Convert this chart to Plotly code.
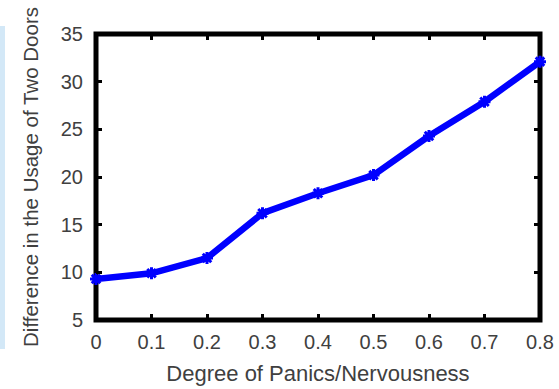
import plotly.graph_objects as go

panic_degree = [0, 0.1, 0.2, 0.3, 0.4, 0.5, 0.6, 0.7, 0.8]
door_usage_diff = [9.3, 9.9, 11.5, 16.2, 18.3, 20.2, 24.3, 27.9, 32.1]
x_ticks = [0, 0.1, 0.2, 0.3, 0.4, 0.5, 0.6, 0.7, 0.8]
x_tick_labels = ["0", "0.1", "0.2", "0.3", "0.4", "0.5", "0.6", "0.7", "0.8"]
y_ticks = [5, 10, 15, 20, 25, 30, 35]

W, H = 559, 389
L, R, T, B = 96, 19, 34, 69
pw, ph = W - L - R, H - T - B

font_family = "Liberation Sans, Arial, sans-serif"
txt_color = "#404040"

fig = go.Figure()
fig.add_trace(go.Scatter(
    x=panic_degree, y=door_usage_diff, mode="lines+markers",
    line=dict(color="#0000ff", width=6.5),
    marker=dict(symbol="asterisk-open", size=10, color="#0000ff",
                line=dict(color="#0000ff", width=3)),
    cliponaxis=False, showlegend=False,
))

# axis box
fig.add_shape(type="rect", xref="x domain", yref="y domain",
              x0=0, x1=1, y0=0, y1=1, layer="below",
              line=dict(color="black", width=5), fillcolor="rgba(0,0,0,0)")
# light blue strip at far left
fig.add_shape(type="rect", xref="paper", yref="paper",
              x0=-L / pw, x1=(5 - L) / pw,
              y0=(H - B - 349) / ph, y1=(H - B - 26) / ph,
              layer="below", line=dict(width=0), fillcolor="#d3e8f7")

fig.update_layout(
    width=W, height=H,
    margin=dict(l=L, r=R, t=T, b=B, pad=0, autoexpand=False),
    paper_bgcolor="white", plot_bgcolor="white",
    font=dict(family=font_family, color=txt_color),
    xaxis=dict(range=[0, 0.8], tickvals=x_ticks, ticktext=x_tick_labels,
               automargin=False,
               showgrid=False, zeroline=False, showline=False,
               ticks="inside", ticklen=6, tickwidth=2.5, tickcolor="black",
               mirror="ticks", tickfont=dict(size=20, color=txt_color),
               ticklabelstandoff=8,
               title=dict(text="Degree of Panics/Nervousness",
                          font=dict(size=22, color=txt_color), standoff=13)),
    yaxis=dict(range=[5, 35], tickvals=y_ticks,
               automargin=False,
               showgrid=False, zeroline=False, showline=False,
               ticks="inside", ticklen=6, tickwidth=2.5, tickcolor="black",
               mirror="ticks", tickfont=dict(size=20, color=txt_color),
               ticklabelstandoff=12,
               title=dict(text="Difference in the Usage of Two Doors",
                          font=dict(size=20.5, color=txt_color), standoff=16)),
)

fig.write_html("out.html",
               config={"displayModeBar": False},
               post_script="document.body.style.margin='0';document.body.style.overflow='hidden';")
